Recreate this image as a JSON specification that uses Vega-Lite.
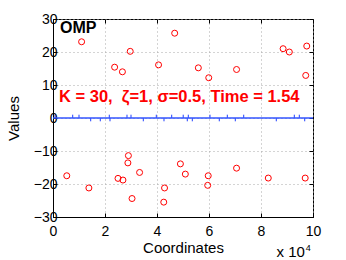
{
  "$schema": "https://vega.github.io/schema/vega-lite/v6.json",
  "width": 260,
  "height": 198,
  "autosize": {"type": "none"},
  "padding": {"left": 53, "top": 19, "right": 33, "bottom": 43},
  "background": "white",
  "config": {
    "font": "Liberation Sans",
    "view": {"stroke": "black", "strokeWidth": 1},
    "axis": {
      "domainColor": "black",
      "domainWidth": 1,
      "tickColor": "black",
      "labelColor": "black",
      "titleColor": "black",
      "labelFont": "Liberation Sans",
      "titleFont": "Liberation Sans",
      "labelFontSize": 14,
      "titleFontSize": 15,
      "titleFontWeight": "normal",
      "gridColor": "#a8a8a8",
      "gridDash": [1, 3],
      "gridWidth": 1,
      "tickSize": -4,
      "labelFlush": false,
      "labelOverlap": false
    }
  },
  "datasets": {
    "points": [
      {"coord": 11000, "value": 23.1},
      {"coord": 23700, "value": 15.4},
      {"coord": 26700, "value": 14.0},
      {"coord": 29700, "value": 20.2},
      {"coord": 40600, "value": 16.1},
      {"coord": 46800, "value": 25.7},
      {"coord": 55900, "value": 15.2},
      {"coord": 59900, "value": 12.2},
      {"coord": 70600, "value": 14.7},
      {"coord": 88500, "value": 21.0},
      {"coord": 90900, "value": 20.0},
      {"coord": 97600, "value": 21.8},
      {"coord": 97200, "value": 12.9},
      {"coord": 5300, "value": -17.5},
      {"coord": 13800, "value": -21.2},
      {"coord": 25000, "value": -18.3},
      {"coord": 26900, "value": -18.8},
      {"coord": 29000, "value": -11.4},
      {"coord": 28800, "value": -13.6},
      {"coord": 33300, "value": -16.5},
      {"coord": 30400, "value": -24.4},
      {"coord": 42900, "value": -21.2},
      {"coord": 42600, "value": -25.5},
      {"coord": 49000, "value": -13.9},
      {"coord": 50900, "value": -17.0},
      {"coord": 59700, "value": -17.5},
      {"coord": 59500, "value": -20.4},
      {"coord": 70600, "value": -15.2},
      {"coord": 82800, "value": -18.2},
      {"coord": 97000, "value": -18.2}
    ],
    "spikes": [
      {"coord": 770, "value": 1},
      {"coord": 7580, "value": 1},
      {"coord": 10000, "value": 1},
      {"coord": 21650, "value": 1},
      {"coord": 28460, "value": 1},
      {"coord": 30000, "value": 1},
      {"coord": 39730, "value": 1},
      {"coord": 45650, "value": 1},
      {"coord": 50080, "value": 1},
      {"coord": 52040, "value": 1},
      {"coord": 60380, "value": 1},
      {"coord": 67040, "value": 1},
      {"coord": 73350, "value": 1},
      {"coord": 92810, "value": 1},
      {"coord": 94730, "value": 1},
      {"coord": 14500, "value": -1},
      {"coord": 18190, "value": -1},
      {"coord": 21920, "value": -1},
      {"coord": 34730, "value": -1},
      {"coord": 42690, "value": -1},
      {"coord": 51650, "value": -1},
      {"coord": 53580, "value": -1},
      {"coord": 63960, "value": -1},
      {"coord": 70120, "value": -1},
      {"coord": 85880, "value": -1},
      {"coord": 96810, "value": -1}
    ]
  },
  "resolve": {"axis": {"x": "independent", "y": "independent"}},
  "layer": [
    {
      "data": {"name": "points"},
      "mark": {"type": "point", "shape": "circle", "filled": false, "color": "#ff0000", "size": 36, "strokeWidth": 1, "opacity": 1},
      "encoding": {
        "x": {
          "field": "coord", "type": "quantitative",
          "scale": {"domain": [0, 100000], "nice": false, "zero": false},
          "axis": {"orient": "bottom", "values": [0, 20000, 40000, 60000, 80000, 100000], "labelExpr": "datum.value / 10000", "title": "Coordinates", "grid": true, "labelPadding": 11, "titlePadding": 2}
        },
        "y": {
          "field": "value", "type": "quantitative",
          "scale": {"domain": [-30, 30], "nice": false, "zero": false},
          "axis": {"orient": "left", "values": [-30, -20, -10, 0, 10, 20, 30], "title": "Values", "grid": true, "labelPadding": 0, "titlePadding": 12}
        }
      }
    },
    {
      "data": {"name": "spikes"},
      "mark": {"type": "rule", "color": "#1f3fff", "strokeWidth": 1},
      "encoding": {
        "x": {
          "field": "coord", "type": "quantitative",
          "axis": {"orient": "top", "values": [0, 20000, 40000, 60000, 80000, 100000], "labels": false, "title": null, "grid": false, "domain": false}
        },
        "y": {
          "field": "value", "type": "quantitative",
          "axis": {"orient": "right", "values": [-30, -20, -10, 0, 10, 20, 30], "labels": false, "title": null, "grid": false, "domain": false}
        },
        "y2": {"datum": 0}
      }
    },
    {
      "data": {"values": [{}]},
      "mark": {"type": "rule", "color": "#3355ff", "strokeWidth": 1.5},
      "encoding": {
        "y": {"datum": 0, "type": "quantitative", "axis": null}
      }
    },
    {
      "data": {"values": [{}]},
      "mark": {"type": "text", "text": "OMP", "font": "Liberation Sans", "fontSize": 16, "fontWeight": "bold", "color": "black", "align": "left", "baseline": "alphabetic"},
      "encoding": {
        "x": {"datum": 2700, "type": "quantitative", "axis": null},
        "y": {"datum": 25.7, "type": "quantitative", "axis": null}
      }
    },
    {
      "data": {"values": [{}]},
      "mark": {"type": "text", "text": "K = 30,\u00a0 ζ=1, σ=0.5, Time = 1.54", "font": "Liberation Sans", "fontSize": 16.5, "fontWeight": "bold", "color": "#ff0000", "align": "left", "baseline": "alphabetic"},
      "encoding": {
        "x": {"datum": 2300, "type": "quantitative", "axis": null},
        "y": {"datum": 4.9, "type": "quantitative", "axis": null}
      }
    },
    {
      "data": {"values": [{}]},
      "mark": {"type": "text", "text": "x 10", "font": "Liberation Sans", "fontSize": 15, "color": "black", "align": "left", "baseline": "alphabetic", "dy": 40},
      "encoding": {
        "x": {"datum": 86000, "type": "quantitative", "axis": null},
        "y": {"datum": -30, "type": "quantitative", "axis": null}
      }
    },
    {
      "data": {"values": [{}]},
      "mark": {"type": "text", "text": "4", "font": "Liberation Sans", "fontSize": 9, "color": "black", "align": "left", "baseline": "alphabetic", "dy": 34},
      "encoding": {
        "x": {"datum": 97200, "type": "quantitative", "axis": null},
        "y": {"datum": -30, "type": "quantitative", "axis": null}
      }
    }
  ]
}
